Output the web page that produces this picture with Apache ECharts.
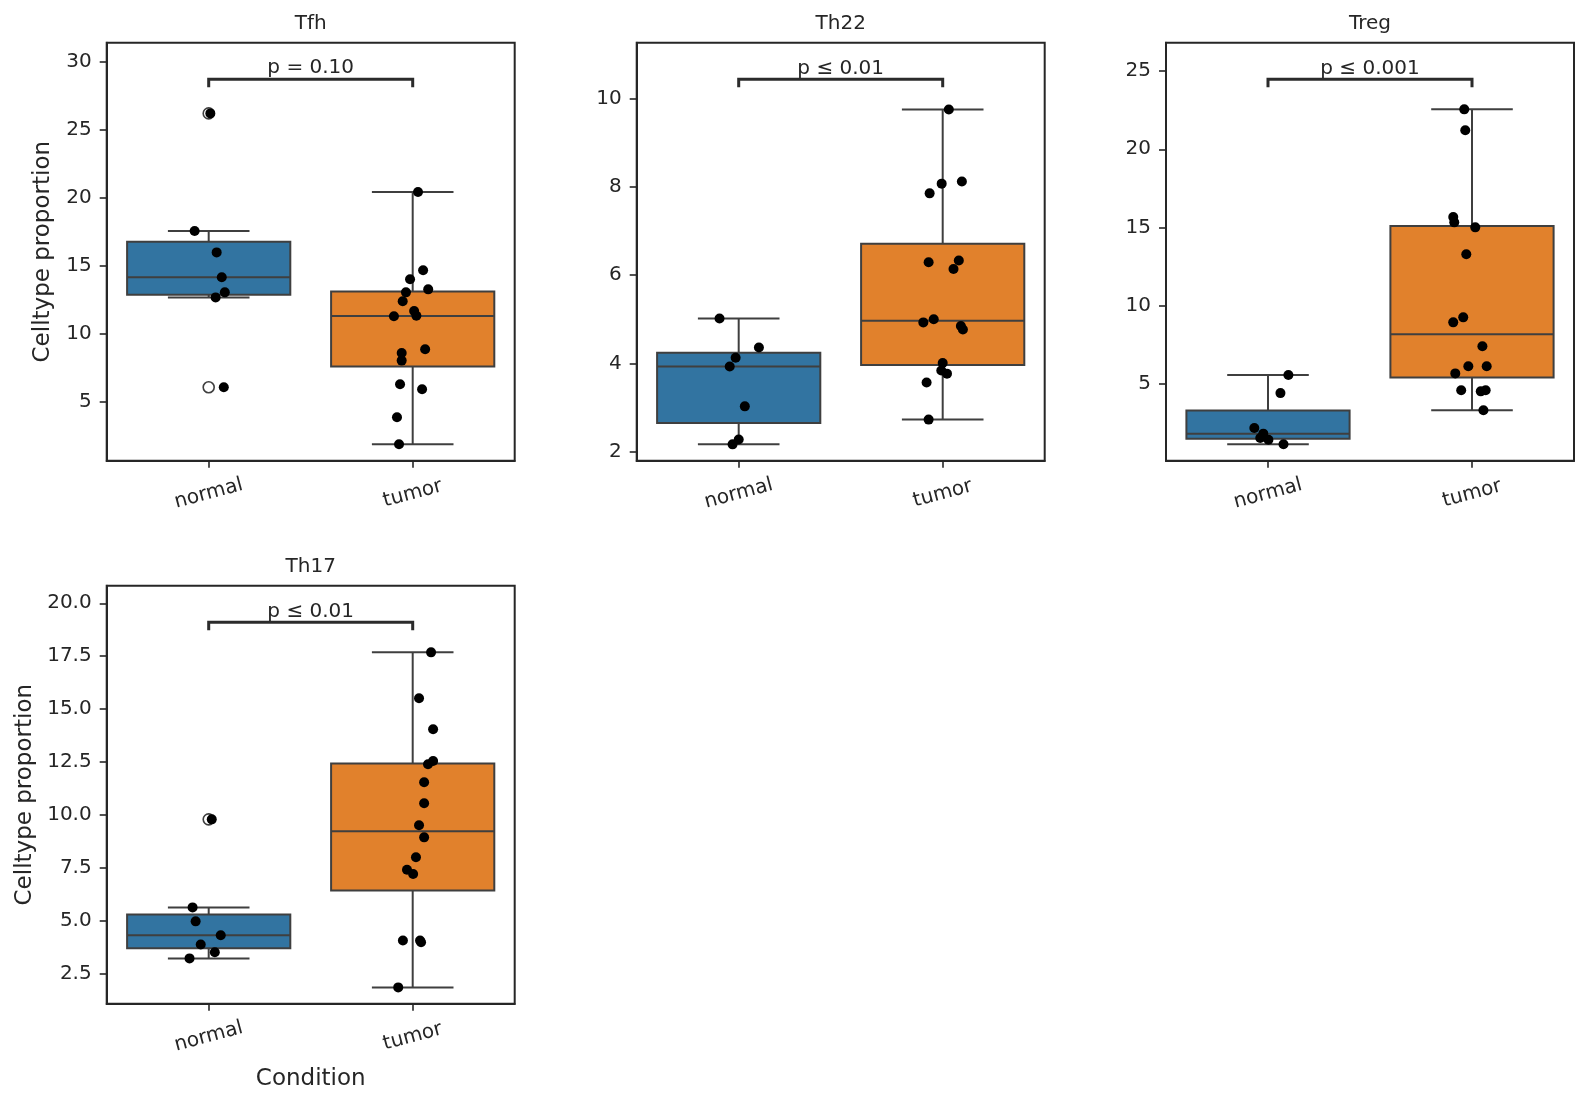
<!DOCTYPE html>
<html>
<head>
<meta charset="utf-8">
<script src="https://cdn.jsdelivr.net/npm/echarts@6/dist/echarts.min.js"></script>
<style>
  html, body { margin: 0; padding: 0; background: #fff; }
  #chart { width: 1588px; height: 1103px; }
</style>
</head>
<body>
<div id="chart"></div>
<script>
// categories shared by every panel
var groups = ['normal', 'tumor'];
var panelNames = ['Tfh', 'Th22', 'Treg', 'Th17'];
var pLabels = ['p = 0.10', 'p \u2264 0.01', 'p \u2264 0.001', 'p \u2264 0.01'];

// values, with the horizontal jitter of each dot
var tfhNormal = [26.2, 17.55, 15.98, 14.15, 13.04, 12.67, 6.06];
var tfhNormalJitter = [0.008, -0.069, 0.039, 0.064, 0.079, 0.034, 0.074];
var tfhTumor = [20.42, 14.66, 14.0, 13.26, 13.04, 12.38, 11.67, 11.32, 11.28, 8.85, 8.58, 8.02, 6.28, 5.91, 3.85, 1.87];
var tfhTumorJitter = [0.026, 0.051, -0.013, 0.076, -0.033, -0.049, 0.007, 0.018, -0.092, 0.061, -0.054, -0.054, -0.062, 0.046, -0.077, -0.067];

var th22Normal = [5.02, 4.36, 4.13, 3.93, 3.03, 2.28, 2.17];
var th22NormalJitter = [-0.094, 0.099, -0.015, -0.044, 0.030, 0.0, -0.030];
var th22Tumor = [9.75, 8.12, 8.07, 7.85, 6.29, 6.33, 6.14, 5.0, 4.93, 4.85, 4.77, 4.01, 3.84, 3.77, 3.57, 2.73];
var th22TumorJitter = [0.030, 0.094, -0.005, -0.064, -0.069, 0.079, 0.053, -0.044, -0.095, 0.089, 0.099, 0.0, -0.007, 0.021, -0.079, -0.069];

var tregNormal = [5.58, 4.42, 2.19, 1.83, 1.55, 1.44, 1.15];
var tregNormalJitter = [0.100, 0.061, -0.067, -0.023, -0.038, 0.002, 0.076];
var tregTumor = [22.55, 21.21, 15.67, 15.33, 15.01, 13.29, 9.26, 8.94, 7.41, 6.13, 6.13, 5.68, 4.6, 4.53, 4.6, 3.32];
var tregTumorJitter = [-0.038, -0.033, -0.092, -0.087, 0.016, -0.028, -0.043, -0.092, 0.051, -0.018, 0.072, -0.082, -0.053, 0.043, 0.067, 0.056];

var th17Normal = [9.79, 5.63, 4.97, 4.31, 3.88, 3.51, 3.22];
var th17NormalJitter = [0.015, -0.079, -0.064, 0.059, -0.039, 0.030, -0.094];
var th17Tumor = [17.68, 15.51, 14.05, 12.55, 12.39, 11.54, 10.55, 9.51, 8.94, 8.0, 7.41, 7.21, 4.07, 4.07, 3.98, 1.85];
var th17TumorJitter = [0.090, 0.031, 0.100, 0.100, 0.075, 0.056, 0.056, 0.031, 0.056, 0.016, -0.028, 0.002, -0.048, 0.036, 0.041, -0.071];

// tick labels of the y axes
var tfhTicks = [5, 10, 15, 20, 25, 30];
var th22Ticks = [2, 4, 6, 8, 10];
var tregTicks = [5, 10, 15, 20, 25];
var th17Ticks = [2.5, 5, 7.5, 10, 12.5, 15, 17.5, 20];

// y ranges and bracket heights as seen on the picture
var yMin = [0.66, 1.8, 0.1, 1.08];
var yMax = [31.4, 11.26, 26.81, 20.83];
var bracketY = [28.71, 10.43, 24.47, 19.10];

var panels = [
  { normal: tfhNormal, nJit: tfhNormalJitter, tumor: tfhTumor, tJit: tfhTumorJitter, ticks: tfhTicks },
  { normal: th22Normal, nJit: th22NormalJitter, tumor: th22Tumor, tJit: th22TumorJitter, ticks: th22Ticks },
  { normal: tregNormal, nJit: tregNormalJitter, tumor: tregTumor, tJit: tregTumorJitter, ticks: tregTicks },
  { normal: th17Normal, nJit: th17NormalJitter, tumor: th17Tumor, tJit: th17TumorJitter, ticks: th17Ticks }
];

// grid placement in px
var gridPos = [
  { left: 106.7, top: 42.7 },
  { left: 636.7, top: 42.7 },
  { left: 1166.0, top: 42.7 },
  { left: 106.7, top: 585.7 }
];
var GW = 408, GH = 418;

var INK = '#262626';
var EDGE = '#3f3f3f';
var boxColors = ['#3274a1', '#e1812c'];
var FONT = 'DejaVu Sans';

// Tukey box stats, linear quantiles
function boxStats(vals) {
  var s = vals.slice().sort(function (a, b) { return a - b; });
  function q(p) {
    var pos = (s.length - 1) * p, lo = Math.floor(pos), hi = Math.ceil(pos);
    return s[lo] + (s[hi] - s[lo]) * (pos - lo);
  }
  var q1 = q(0.25), med = q(0.5), q3 = q(0.75), iqr = q3 - q1;
  var loF = q1 - 1.5 * iqr, hiF = q3 + 1.5 * iqr;
  var inside = s.filter(function (v) { return v >= loF && v <= hiF; });
  var fliers = s.filter(function (v) { return v < loF || v > hiF; });
  return { box: [inside[0], q1, med, q3, inside[inside.length - 1]], fliers: fliers };
}

function renderBox(params, api) {
  var x = api.value(0);
  var wLo = api.value(1), q1 = api.value(2), med = api.value(3), q3 = api.value(4), wHi = api.value(5);
  var tl = api.coord([x - 0.4, q3]);
  var br = api.coord([x + 0.4, q1]);
  var cx = api.coord([x, med])[0];
  var capL = api.coord([x - 0.2, 0])[0];
  var capR = api.coord([x + 0.2, 0])[0];
  var yHi = api.coord([x, wHi])[1], yLo = api.coord([x, wLo])[1], yMed = api.coord([x, med])[1];
  var ls = { stroke: EDGE, lineWidth: 2 };
  return {
    type: 'group',
    children: [
      { type: 'line', shape: { x1: cx, y1: tl[1], x2: cx, y2: yHi }, style: ls },
      { type: 'line', shape: { x1: cx, y1: br[1], x2: cx, y2: yLo }, style: ls },
      { type: 'line', shape: { x1: capL, y1: yHi, x2: capR, y2: yHi }, style: ls },
      { type: 'line', shape: { x1: capL, y1: yLo, x2: capR, y2: yLo }, style: ls },
      { type: 'rect', shape: { x: tl[0], y: tl[1], width: br[0] - tl[0], height: br[1] - tl[1] },
        style: { fill: boxColors[x], stroke: EDGE, lineWidth: 2 } },
      { type: 'line', shape: { x1: tl[0], y1: yMed, x2: br[0], y2: yMed }, style: ls }
    ]
  };
}

function makeBracket(label) {
  return function (params, api) {
    var a = api.coord([api.value(0), api.value(2)]);
    var b = api.coord([api.value(1), api.value(2)]);
    return {
      type: 'group',
      children: [
        { type: 'polyline', shape: { points: [[a[0], a[1] + 8], [a[0], a[1]], [b[0], b[1]], [b[0], b[1] + 8]] },
          style: { stroke: '#2b2b2b', lineWidth: 3, fill: null } },
        { type: 'text', x: (a[0] + b[0]) / 2, y: a[1] - 1,
          style: { text: label, textAlign: 'center', textVerticalAlign: 'bottom',
                   fontSize: 20, fontFamily: FONT, fill: INK } }
      ]
    };
  };
}

var grids = [], xAxes = [], yAxes = [], series = [], graphics = [];

panels.forEach(function (p, g) {
  grids.push({
    left: gridPos[g].left, top: gridPos[g].top, width: GW, height: GH,
    show: true, borderColor: INK, borderWidth: 2, backgroundColor: 'transparent',
    containLabel: false, outerBoundsMode: 'none'
  });

  xAxes.push({
    type: 'category', gridIndex: g, data: groups, boundaryGap: true,
    axisLine: { show: true, onZero: false, lineStyle: { color: INK, width: 2 } },
    axisTick: { show: true, alignWithLabel: true, length: 7, lineStyle: { color: INK, width: 1.6 } },
    axisLabel: { rotate: 15, align: 'center', verticalAlign: 'middle', margin: 33,
                 fontSize: 20, color: INK, fontFamily: FONT },
    splitLine: { show: false },
    name: g === 3 ? 'Condition' : '', nameLocation: 'middle', nameGap: 64,
    nameTextStyle: { fontSize: 23, color: INK, fontFamily: FONT }
  });
  xAxes.push({ type: 'value', gridIndex: g, min: -0.5, max: 1.5, show: false,
               axisLine: { onZero: false } });

  var fmt = g === 3 ? function (v) { return v.toFixed(1); } : function (v) { return String(v); };
  yAxes.push({
    type: 'value', gridIndex: g, min: yMin[g], max: yMax[g], position: 'left',
    axisLine: { show: true, onZero: false, lineStyle: { color: INK, width: 2 } },
    axisTick: { show: true, length: 7, customValues: p.ticks, lineStyle: { color: INK, width: 1.6 } },
    axisLabel: { customValues: p.ticks, formatter: fmt, margin: 15, fontSize: 20, color: INK, fontFamily: FONT },
    splitLine: { show: false },
    name: (g === 0 || g === 3) ? 'Celltype proportion' : '', nameLocation: 'middle',
    nameGap: g === 3 ? 70 : 52,
    nameTextStyle: { fontSize: 23, color: INK, fontFamily: FONT }
  });

  var sN = boxStats(p.normal), sT = boxStats(p.tumor);

  series.push({
    type: 'custom', xAxisIndex: 2 * g + 1, yAxisIndex: g, z: 2,
    renderItem: renderBox,
    encode: { x: 0, y: [1, 2, 3, 4, 5] },
    data: [[0].concat(sN.box), [1].concat(sT.box)]
  });

  var fl = [];
  sN.fliers.forEach(function (v) { fl.push([0, v]); });
  sT.fliers.forEach(function (v) { fl.push([1, v]); });
  series.push({
    type: 'scatter', xAxisIndex: 2 * g + 1, yAxisIndex: g, z: 3,
    symbol: 'circle', symbolSize: 11,
    itemStyle: { color: 'rgba(0,0,0,0)', borderColor: EDGE, borderWidth: 1.6, opacity: 1 },
    data: fl
  });

  var pts = [];
  p.normal.forEach(function (v, i) { pts.push([0 + p.nJit[i], v]); });
  p.tumor.forEach(function (v, i) { pts.push([1 + p.tJit[i], v]); });
  series.push({
    type: 'scatter', xAxisIndex: 2 * g + 1, yAxisIndex: g, z: 4,
    symbol: 'circle', symbolSize: 10,
    itemStyle: { color: '#000', opacity: 1 },
    data: pts
  });

  series.push({
    type: 'custom', xAxisIndex: 2 * g + 1, yAxisIndex: g, z: 5,
    renderItem: makeBracket(pLabels[g]),
    encode: { x: [0, 1], y: 2 },
    data: [[0, 1, bracketY[g]]]
  });

  graphics.push({
    type: 'text', x: gridPos[g].left + GW / 2, y: gridPos[g].top - 19.4,
    style: { text: panelNames[g], textAlign: 'center', textVerticalAlign: 'middle',
             fontSize: 20, fontFamily: FONT, fill: INK }
  });
});

var chart = echarts.init(document.getElementById('chart'));
chart.setOption({
  animation: false,
  backgroundColor: '#fff',
  textStyle: { fontFamily: FONT },
  graphic: graphics,
  grid: grids,
  xAxis: xAxes,
  yAxis: yAxes,
  series: series
});
</script>
</body>
</html>
